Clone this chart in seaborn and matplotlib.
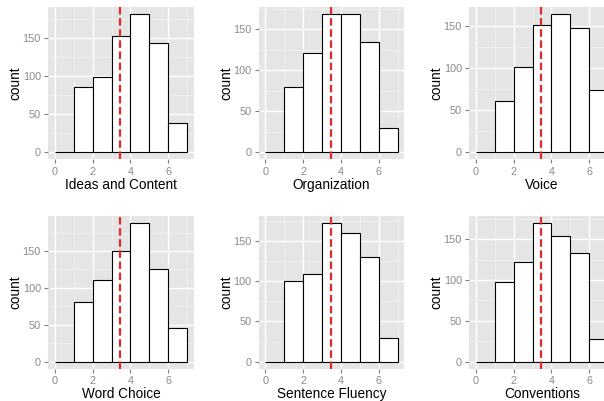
import numpy as np
import pandas as pd
import matplotlib
matplotlib.use("Agg")
import matplotlib.pyplot as plt
from matplotlib.ticker import FixedLocator
import seaborn as sns

# Score levels and the number of essays at each level, per trait
scores = [0, 1, 2, 3, 4, 5, 6]
traits = ["Ideas and Content", "Organization", "Voice",
          "Word Choice", "Sentence Fluency", "Conventions"]
ideas_counts = [0, 86, 99, 153, 182, 143, 39]
organization_counts = [0, 79, 121, 169, 168, 134, 30]
voice_counts = [0, 61, 102, 151, 165, 148, 74]
word_choice_counts = [0, 81, 111, 150, 188, 126, 45]
fluency_counts = [0, 100, 109, 173, 160, 131, 30]
conventions_counts = [0, 98, 122, 170, 154, 133, 28]
reference_score = 3.45

all_counts = [ideas_counts, organization_counts, voice_counts,
              word_choice_counts, fluency_counts, conventions_counts]

plt.rcParams["font.family"] = ["Liberation Sans", "DejaVu Sans"]

W, H = 604, 401
fig = plt.figure(figsize=(W / 100, H / 100), dpi=100)

col_left = [48.3, 258.8, 469.3]
row_top = [6.7, 216.0]
pw, ph = 145.5, 152.5

for i, (name, counts) in enumerate(zip(traits, all_counts)):
    r, c = divmod(i, 3)
    left = col_left[c]
    bottom = H - (row_top[r] + ph)
    ax = fig.add_axes([left / W, bottom / H, pw / W, ph / H])
    ax.set_facecolor("#E5E5E5")
    for s in ax.spines.values():
        s.set_visible(False)

    df = pd.DataFrame({"score": np.array(scores, dtype=float) + 0.5,
                       "n": np.array(counts, dtype=float)})
    sns.histplot(data=df, x="score", weights="n", binwidth=1,
                 binrange=(0, 7), ax=ax, color="white", edgecolor="black",
                 linewidth=0.8, alpha=1, zorder=3)
    ax.axvline(reference_score, color="#E02A2A", linewidth=1.6,
               linestyle=(0, (3.4, 1.6)), zorder=4)

    ymax = max(counts)
    ax.set_xlim(-0.35, 7.35)
    ax.set_ylim(-0.05 * ymax, 1.05 * ymax)

    ax.xaxis.set_major_locator(FixedLocator([0, 2, 4, 6]))
    ax.xaxis.set_minor_locator(FixedLocator([1, 3, 5, 7]))
    ax.yaxis.set_major_locator(FixedLocator([0, 50, 100, 150]))
    ax.yaxis.set_minor_locator(FixedLocator([25, 75, 125, 175]))

    ax.set_axisbelow(True)
    ax.grid(which="major", color="white", linewidth=1.0, zorder=0)
    ax.grid(which="minor", color="#F2F2F2", linewidth=0.5, zorder=0)

    ax.tick_params(which="major", direction="out", length=3.2, width=0.8,
                   color="#7F7F7F", labelcolor="#8A8A8A", labelsize=7.8,
                   pad=2.2)
    ax.tick_params(which="minor", length=0)

    ax.set_xlabel(name, fontsize=9.8, color="black", labelpad=1.0)
    ax.set_ylabel("count", fontsize=9.8, color="black")
    ax.yaxis.set_label_coords(-0.175, 0.5)

fig.savefig("out.png", dpi=100)
